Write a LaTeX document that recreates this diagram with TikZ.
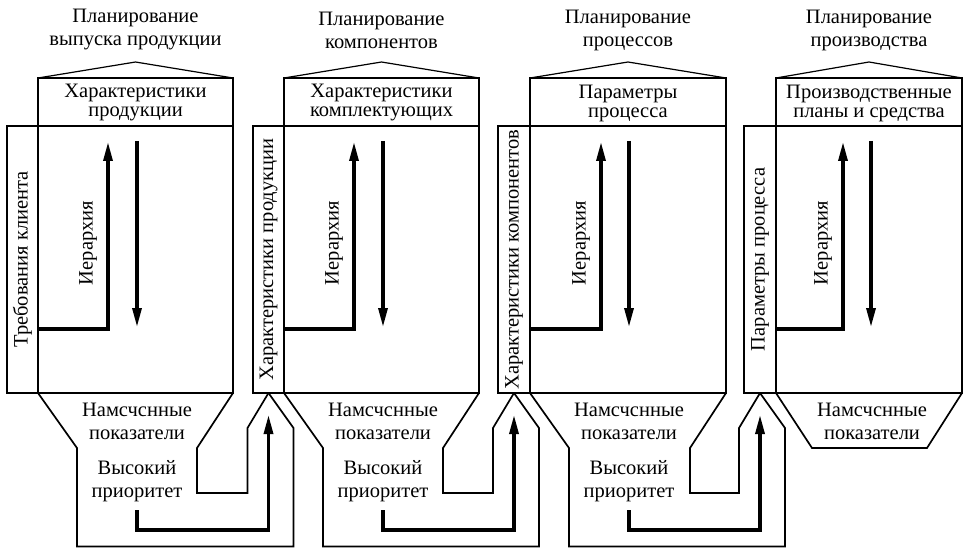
\documentclass[tikz,border=0pt]{standalone}
\usepackage{fontspec}
\setmainfont{Liberation Serif}
\usetikzlibrary{arrows.meta}
\begin{document}
\begin{tikzpicture}[x=1pt,y=-1pt,
  box/.style={draw, line width=1.7pt},
  sidebox/.style={draw, line width=1.3pt},
  roof/.style={draw, line width=1.2pt},
  flow/.style={line width=3.2pt, -{Triangle[length=19pt,width=9pt]}},
  ttl/.style={font=\fontsize{20.5}{23}\selectfont, align=center, inner sep=0pt},
  hdr/.style={font=\fontsize{20.5}{19}\selectfont, align=center, inner sep=0pt},
  vtxt/.style={font=\fontsize{20.5}{22}\selectfont, inner sep=0pt, rotate=90},
]
\useasboundingbox (0,0) rectangle (966,548);

% blocks
\foreach \i/\sx/\ml/\mr/\ua/\da in {1/7/38/233/108/137, 2/253/284/479/354/383, 3/498/530/726/601/629, 4/744/776/962/843/871}{
  \pgfmathsetmacro\cx{(\ml+\mr)/2}
  \draw[roof] (\ml,78) -- (\cx,62) -- (\mr,78);
  \draw[box] (\ml,78) rectangle (\mr,126);
  \draw[box] (\ml,126) rectangle (\mr,393);
  \draw[sidebox] (\sx,126) rectangle (\ml,393);
  \coordinate (in\i) at (\ml,329);
  \coordinate (up\i) at (\ua,142);
  \coordinate (ds\i) at (\da,141);
  \coordinate (de\i) at (\da,327);
  \draw[flow] (in\i) -| (up\i);
  \draw[flow] (ds\i) -- (de\i);
  \node[vtxt] (hier\i) at (\ua-20,243) {Иерархия};
}

% funnels between blocks
\foreach \j/\ml/\mr/\ap/\da in {1/38/233/268.5/137, 2/284/479/514/383, 3/530/726/760/629}{
  \draw[box] (\ml,393) -- (\ml+39,448) -- (\ml+39,546.5) -- (\ap+25,546.5) -- (\ap+25,428) -- (\ap,393);
  \draw[box] (\mr,393) -- (\mr-36,448) -- (\mr-36,493) -- (\ap-21,493) -- (\ap-21,428) -- (\ap,393);
  \coordinate (bs\j) at (\da,510);
  \coordinate (bc\j) at (\ap,530);
  \coordinate (be\j) at (\ap,415);
  \draw[flow] (bs\j) |- (bc\j) -- (be\j);
  \node[ttl] (ind\j) at (\da,421) {Намсчснные\\показатели};
  \node[ttl] (pri\j) at (\da,481) {Высокий\\приоритет};
}
\draw[box] (776,393) -- (812,448) -- (927,448) -- (962,393);
\node[ttl] (ind4) at (872,421) {Намсчснные\\показатели};

% titles
\node[ttl] (t1) at (135.5,30) {Планирование\\выпуска продукции};
\node[ttl] (t2) at (381.5,30) {Планирование\\компонентов};
\node[ttl] (t3) at (628,30) {Планирование\\процессов};
\node[ttl] (t4) at (869,30) {Планирование\\производства};

% header boxes
\node[hdr] (h1) at (135.5,103) {Характеристики\\продукции};
\node[hdr] (h2) at (381.5,103) {Характеристики\\комплектующих};
\node[hdr] (h3) at (628,103) {Параметры\\процесса};
\node[hdr] (h4) at (869,103) {Производственные\\планы и средства};

% side boxes
\node[vtxt] (s1) at (22.5,259.5) {Требования клиента};
\node[vtxt] (s2) at (268.5,259.5) {Характеристики продукции};
\node[vtxt] (s3) at (514,259.5) {Характеристики компонентов};
\node[vtxt] (s4) at (760,259.5) {Параметры процесса};
\end{tikzpicture}
\end{document}
